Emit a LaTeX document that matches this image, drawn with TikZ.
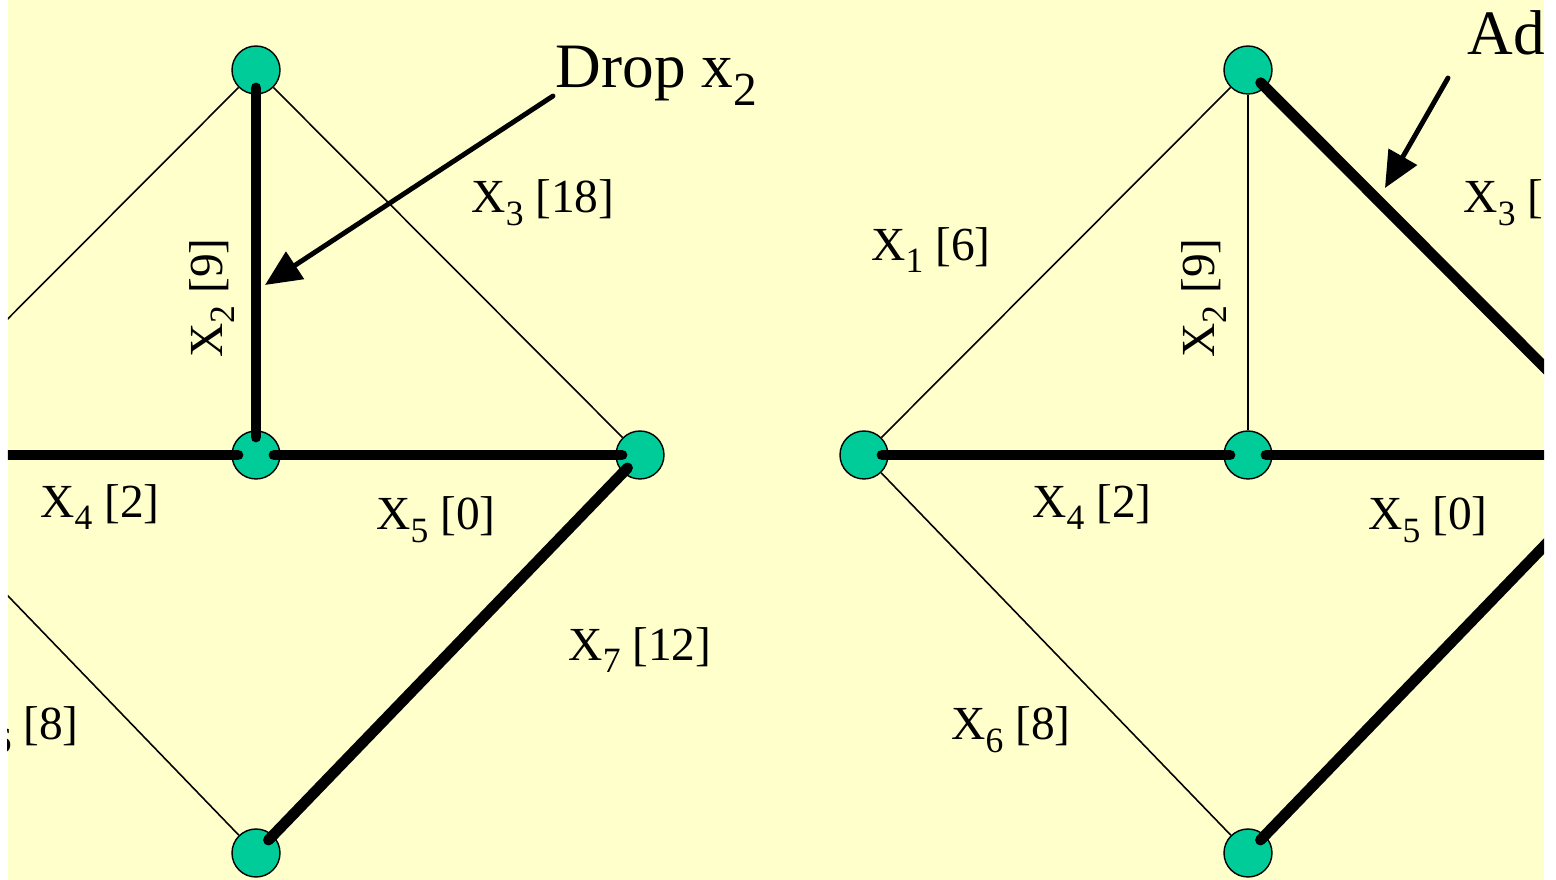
\documentclass[tikz,border=0pt]{standalone}
\usepackage{fontspec}
\setmainfont{Liberation Serif}
\usepackage{xcolor}
\usetikzlibrary{arrows.meta}

\definecolor{slideyellow}{HTML}{FFFFCC}
\definecolor{nodegreen}{HTML}{00CC99}
\newcommand{\lowidx}[1]{\raisebox{-0.27em}{\scalebox{0.75}{#1}}}

\begin{document}
\begin{tikzpicture}[
    x = 0.1mm, y = -0.1mm, % one unit = one pixel of the slide
    > = {Triangle[length=3.6mm,width=3.2mm]}, % arrow head style
    vertex/.style = {circle, draw = black, thin, fill = nodegreen,
                     minimum size = 4.8mm, inner sep = 0pt},
    nonbasic/.style = {draw = black, line width = 0.45pt},
    basic/.style = {draw = black, line width = 3.1pt, line cap = round,
                    shorten < = 1.8mm, shorten > = 1.8mm},
    lbl/.style = {inner sep = 0pt, font = \fontsize{13.5}{16}\selectfont},
    note/.style = {inner sep = 0pt, font = \fontsize{18}{22}\selectfont},
    pointer/.style = {->, line width = 1.4pt, line cap = round}
]
% slide background
\fill[white] (0,0) rectangle (1556,880);
\fill[slideyellow] (8,0) rectangle (1544,880);
\useasboundingbox (0,0) rectangle (1556,880);
\clip (8,0) rectangle (1544,880);

% left diagram: drop x2
\node[vertex] (la) at (256,70) {};
\node[vertex] (lb) at (256,455) {};
\node[vertex] (lc) at (640,455) {};
\node[vertex] (ld) at (256,853) {};
\node[vertex] (ll) at (-128,455) {};

\draw[nonbasic] (ll) -- (la);
\draw[nonbasic] (la) -- (lc);
\draw[nonbasic] (ll) -- (ld);
\draw[basic] (la.center) -- (lb.center);
\draw[basic] (ll.center) -- (lb.center);
\draw[basic] (lb.center) -- (lc.center);
\draw[basic] (lc.center) -- (ld.center);

\node[lbl] at (-61,250) {X\lowidx{1} [6]};
\node[lbl, rotate=90] at (212,298) {X\lowidx{2} [9]};
\node[lbl] at (543,203) {X\lowidx{3} [18]};
\node[lbl] at (100,507) {X\lowidx{4} [2]};
\node[lbl] at (436,520) {X\lowidx{5} [0]};
\node[lbl] at (19,730) {X\lowidx{6} [8]};
\node[lbl] at (640,650) {X\lowidx{7} [12]};

\node[note, anchor=base west] (drop) at (555,88) {Drop x\lowidx{2}};
\coordinate (dropfrom) at (553,96);
\coordinate (dropto) at (265,285);
\draw[pointer] (dropfrom) -- (dropto);

% right diagram: add x3
\node[vertex] (ra) at (1248,70) {};
\node[vertex] (rb) at (1248,455) {};
\node[vertex] (rc) at (1632,455) {};
\node[vertex] (rd) at (1248,853) {};
\node[vertex] (rl) at (864,455) {};

\draw[nonbasic] (rl) -- (ra);
\draw[nonbasic] (ra) -- (rb);
\draw[nonbasic] (rl) -- (rd);
\draw[basic] (ra.center) -- (rc.center);
\draw[basic] (rl.center) -- (rb.center);
\draw[basic] (rb.center) -- (rc.center);
\draw[basic] (rc.center) -- (rd.center);

\node[lbl] at (931,250) {X\lowidx{1} [6]};
\node[lbl, rotate=90] at (1204,298) {X\lowidx{2} [9]};
\node[lbl] at (1535,203) {X\lowidx{3} [18]};
\node[lbl] at (1092,507) {X\lowidx{4} [2]};
\node[lbl] at (1428,520) {X\lowidx{5} [0]};
\node[lbl] at (1011,730) {X\lowidx{6} [8]};
\node[lbl] at (1632,650) {X\lowidx{7} [12]};

\node[note, anchor=base west] (add) at (1467,55) {Add x\lowidx{3}};
\coordinate (addfrom) at (1448,78);
\coordinate (addto) at (1385,188);
\draw[pointer] (addfrom) -- (addto);
\end{tikzpicture}
\end{document}
